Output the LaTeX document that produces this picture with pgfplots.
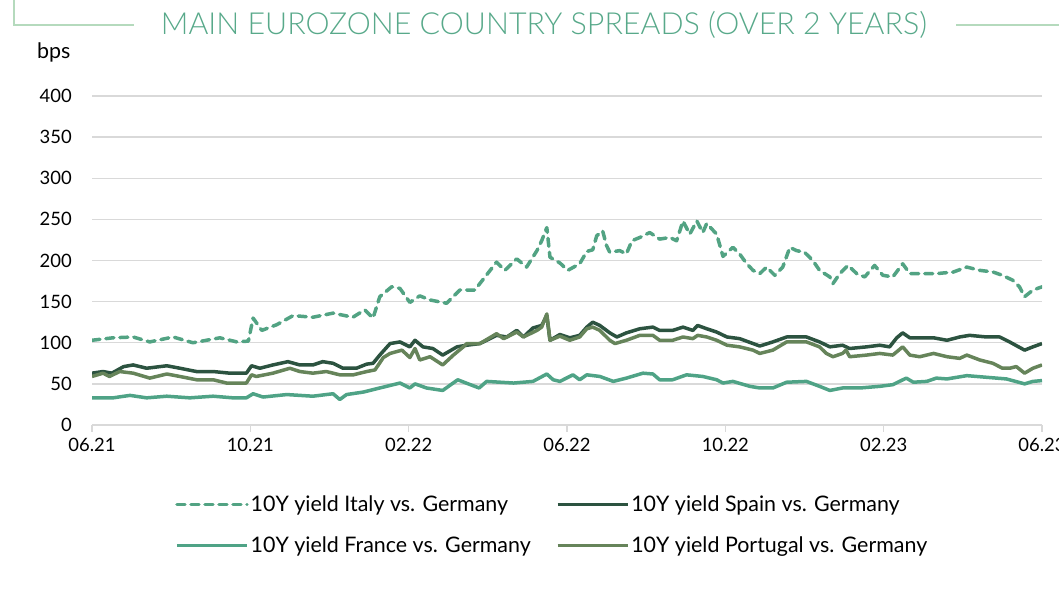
\documentclass[border=0pt]{standalone}
\usepackage{pgfplots}
\pgfplotsset{compat=1.18}
\usepackage{fontspec}
\setmainfont{Lato}
\newfontfamily\titlefont{Lato Light}
\definecolor{cItaly}{HTML}{52A383}
\definecolor{cFrance}{HTML}{4FA386}
\definecolor{cSpain}{HTML}{2C5340}
\definecolor{cPort}{HTML}{66845A}
\definecolor{cTitle}{HTML}{58A98A}
\definecolor{cFrame}{HTML}{B5DABD}
\definecolor{cGrid}{HTML}{D9D9D9}
\begin{document}
\begin{tikzpicture}[x=1bp,y=1bp]
\useasboundingbox (0,0) rectangle (1059,591);
\clip (0,0) rectangle (1059,591);
\draw[cFrame, line width=2.5bp] (14,591) -- (14,566) -- (134,566);
\draw[cFrame, line width=2.5bp] (956,566) -- (1059,566);
\node[text=cTitle, font=\titlefont\fontsize{30.5}{36}\selectfont] at (544,566) {MAIN EUROZONE COUNTRY SPREADS (OVER 2 YEARS)};
\node[anchor=west, inner sep=0pt, font=\fontsize{21.5}{26}\selectfont] at (37,539) {bps};
\begin{axis}[
  at={(92bp,166bp)}, anchor=south west,
  width=950bp, height=329bp, scale only axis,
  xmin=0, xmax=24, ymin=0, ymax=400,
  xtick={0,4,...,24},
  xticklabels={06.21,10.21,02.22,06.22,10.22,02.23,06.23},
  ytick={0,50,...,400},
  axis x line*=bottom, axis y line*=left,
  x axis line style={-, draw=cGrid, line width=1.6bp},
  y axis line style={draw=none},
  ymajorgrids, grid style={draw=cGrid, line width=1.3bp},
  tick align=outside, major tick length=7bp,
  xtick style={draw=cGrid, line width=1.6bp},
  ytick style={draw=none},
  /pgf/number format/assume math mode=true,
  tick label style={font=\fontsize{18.5}{22}\selectfont},
  yticklabel style={inner sep=0pt, xshift=-13bp},
  xticklabel style={inner sep=0pt, yshift=-6bp},
  legend columns=2,
  legend cell align=left,
  legend style={draw=none, fill=none, inner sep=0pt,
    at={(axis description cs:0.0874,-0.209)}, anchor=north west,
    font=\fontsize{21.5}{26}\selectfont,
    /tikz/every even column/.append style={column sep=23bp},
    row sep=19.5bp},
  legend image code/.code={\draw[#1] (0bp,0bp) -- (70bp,0bp);},
  every axis plot/.append style={line width=3.5bp, line join=round},
]
\addplot[cItaly, dash pattern=on 8bp off 6bp, line cap=round] coordinates {
(0,103)(0.53,106)(1.04,107)(1.46,101)(2.05,107)(2.55,100)(3.23,106)(3.66,101)(3.95,102)(4.07,130)(4.29,115)(4.67,122)(5.08,133)(5.58,131)(6.09,136)(6.59,131)(6.89,140)(7.1,130)(7.27,156)(7.57,168)(7.78,166)(8.03,149)(8.28,157)(8.54,152)(8.96,148)(9.29,164)(9.67,164)(10.22,198)(10.43,188)(10.73,202)(10.98,192)(11.24,212)(11.36,224)(11.49,240)(11.57,204)(11.82,197)(12.02,188)(12.32,196)(12.5,211)(12.65,213)(12.75,230)(12.9,236)(13.0,218)(13.08,210)(13.33,212)(13.5,208)(13.64,224)(13.84,228)(14.09,234)(14.34,226)(14.6,228)(14.77,224)(14.93,248)(15.1,232)(15.28,248)(15.43,234)(15.53,245)(15.78,232)(15.94,205)(16.19,216)(16.36,208)(16.54,196)(16.7,188)(16.87,184)(17.04,192)(17.25,182)(17.45,192)(17.63,216)(17.8,212)(18.0,210)(18.21,200)(18.38,188)(18.64,180)(18.72,172)(18.89,184)(19.1,194)(19.32,184)(19.52,180)(19.77,194)(19.98,182)(20.23,180)(20.48,196)(20.66,184)(20.91,184)(21.33,184)(21.76,186)(22.1,192)(22.43,188)(22.76,186)(23.0,182)(23.26,176)(23.43,168)(23.56,156)(23.77,164)(24,168)
};
\addlegendentry{10Y yield Italy vs. Germany}
\addplot[cSpain] coordinates {
(0,63)(0.28,65)(0.5,63)(0.8,71)(1.04,73)(1.38,69)(1.89,72)(2.22,69)(2.64,65)(3.06,65)(3.48,63)(3.9,63)(4.03,72)(4.24,69)(4.57,73)(4.95,77)(5.25,73)(5.58,73)(5.83,77)(6.09,75)(6.34,69)(6.68,69)(6.94,74)(7.1,75)(7.27,85)(7.53,99)(7.78,101)(8.03,95)(8.16,103)(8.36,95)(8.61,93)(8.86,85)(9.22,95)(9.47,97)(9.8,99)(10.22,109)(10.48,107)(10.73,115)(10.9,107)(11.14,118)(11.36,121)(11.49,133)(11.57,103)(11.82,110)(12.07,106)(12.32,109)(12.5,119)(12.65,125)(12.83,121)(13.08,112)(13.26,107)(13.5,112)(13.84,117)(14.17,119)(14.34,115)(14.67,115)(14.93,119)(15.18,115)(15.3,121)(15.53,117)(15.78,113)(16.04,107)(16.36,105)(16.7,99)(16.87,96)(17.2,101)(17.55,107)(17.7,107)(18.05,107)(18.38,101)(18.64,95)(18.96,97)(19.14,93)(19.57,95)(19.9,97)(20.15,95)(20.33,106)(20.48,112)(20.66,106)(20.91,106)(21.26,106)(21.6,103)(21.92,107)(22.17,109)(22.6,107)(22.93,107)(23.18,101)(23.56,91)(23.77,95)(24,99)
};
\addlegendentry{10Y yield Spain vs. Germany}
\addplot[cFrance] coordinates {
(0,33)(0.53,33)(0.96,36)(1.38,33)(1.89,35)(2.47,33)(3.06,35)(3.56,33)(3.9,33)(4.07,38)(4.32,34)(4.92,37)(5.58,35)(6.09,38)(6.26,31)(6.43,37)(6.85,40)(7.27,45)(7.78,51)(8.03,45)(8.16,50)(8.45,45)(8.86,42)(9.24,55)(9.45,51)(9.78,45)(9.97,53)(10.65,51)(11.14,53)(11.49,62)(11.65,55)(11.82,53)(12.15,61)(12.32,55)(12.5,61)(12.83,59)(13.17,53)(13.5,57)(13.92,63)(14.17,62)(14.34,55)(14.67,55)(15.02,61)(15.43,59)(15.78,55)(15.94,51)(16.19,53)(16.62,47)(16.87,45)(17.2,45)(17.55,52)(18.05,53)(18.38,47)(18.64,42)(18.96,45)(19.4,45)(19.9,47)(20.23,49)(20.57,57)(20.75,52)(21.09,53)(21.33,57)(21.6,56)(22.1,60)(22.6,58)(23.1,56)(23.56,50)(23.77,53)(24,54)
};
\addlegendentry{10Y yield France vs. Germany}
\addplot[cPort] coordinates {
(0,59)(0.28,63)(0.44,59)(0.7,65)(1.04,63)(1.46,57)(1.89,62)(2.22,59)(2.64,55)(3.06,55)(3.4,51)(3.9,51)(4.03,61)(4.15,59)(4.57,63)(5.0,69)(5.25,65)(5.58,63)(5.92,65)(6.26,61)(6.6,61)(6.94,65)(7.15,67)(7.36,82)(7.53,87)(7.83,91)(8.03,82)(8.16,93)(8.28,79)(8.54,83)(8.86,73)(9.13,85)(9.38,95)(9.47,99)(9.8,99)(10.22,111)(10.4,105)(10.73,113)(10.9,107)(11.24,115)(11.36,119)(11.49,135)(11.57,103)(11.82,108)(12.07,103)(12.32,107)(12.5,117)(12.65,119)(12.83,115)(13.08,103)(13.21,99)(13.5,103)(13.84,109)(14.17,109)(14.34,103)(14.67,103)(14.93,107)(15.18,105)(15.3,109)(15.53,107)(15.78,103)(16.04,97)(16.36,95)(16.7,91)(16.87,87)(17.2,91)(17.55,101)(18.05,101)(18.38,95)(18.55,87)(18.72,83)(18.96,87)(19.05,91)(19.14,83)(19.57,85)(19.9,87)(20.23,85)(20.48,95)(20.66,85)(20.91,83)(21.26,87)(21.6,83)(21.92,81)(22.1,85)(22.43,79)(22.76,75)(23.0,69)(23.18,69)(23.35,71)(23.56,63)(23.77,69)(24,73)
};
\addlegendentry{10Y yield Portugal vs. Germany}
\end{axis}
\end{tikzpicture}
\end{document}
